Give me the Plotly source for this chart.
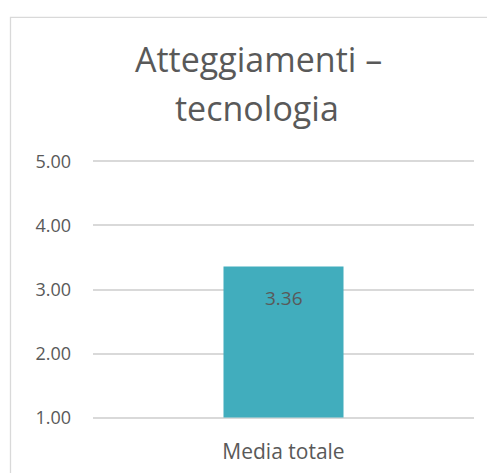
import plotly.graph_objects as go

categories = ["Media totale"]
values = [3.36]
tick_vals = [1, 2, 3, 4, 5]
tick_text = ["1.00", "2.00", "3.00", "4.00", "5.00"]
title_lines = ["Atteggiamenti –", "tecnologia"]

TXT = "#595959"
FONT = "Open Sans"

OFF = 8  # page body margin
W, H = 495 - OFF, 473 - OFF
Y0, Y1 = 0.9, 5.1
PX_PER = (418 - 161) / 4.0
top_px = 161 - (Y1 - 5) * PX_PER
bot_px = 418 + (1 - Y0) * PX_PER
ML = 93 - OFF
MR = W - (474 - OFF)
MT = top_px - OFF
MB = H - (bot_px - OFF)
pw, ph = W - ML - MR, H - MT - MB

def px_x(p):
    return (p - OFF - ML) / pw

def px_y(p):
    return (H - MB - (p - OFF)) / ph

fig = go.Figure()
fig.add_trace(go.Bar(
    x=categories, y=[v - 1 for v in values], base=1,
    marker=dict(color="#41ADBD", line=dict(width=0)),
    hoverinfo="skip",
))

annotations = []
for c, v in zip(categories, values):
    annotations.append(dict(
        x=c, y=v, xref="x", yref="y", text=f"{v:.2f}", showarrow=False,
        yanchor="top", yshift=-17, font=dict(family=FONT, size=19, color=TXT),
    ))
annotations.append(dict(
    x=px_x(258), y=px_y(58), xref="paper", yref="paper", text=title_lines[0],
    showarrow=False, xanchor="center", yanchor="middle",
    font=dict(family=FONT, size=34, color=TXT),
))
annotations.append(dict(
    x=px_x(257), y=px_y(107), xref="paper", yref="paper", text=title_lines[1],
    showarrow=False, xanchor="center", yanchor="middle",
    font=dict(family=FONT, size=34, color=TXT),
))

fig.update_layout(
    width=W, height=H,
    margin=dict(l=ML, r=MR, t=MT, b=MB, pad=0, autoexpand=False),
    paper_bgcolor="white", plot_bgcolor="white",
    showlegend=False,
    bargap=0.685,
    annotations=annotations,
    shapes=[dict(
        type="rect", xref="paper", yref="paper",
        x0=px_x(10.5), x1=px_x(520), y0=px_y(500), y1=px_y(16.5),
        line=dict(color="#d9d9d9", width=1.3), fillcolor="rgba(0,0,0,0)",
        layer="below",
    )],
)
fig.update_xaxes(
    automargin=False,
    showgrid=False, zeroline=False, showline=False, ticks="",
    tickfont=dict(family=FONT, size=21, color=TXT),
    ticklabelstandoff=13,
)
fig.update_yaxes(
    automargin=False,
    range=[Y0, Y1], tickvals=tick_vals, ticktext=tick_text,
    showgrid=True, gridcolor="#d9d9d9", gridwidth=1.5,
    zeroline=False, showline=False, ticks="",
    tickfont=dict(family=FONT, size=18, color=TXT),
    ticklabelstandoff=21,
)

fig.write_html("out.html")
